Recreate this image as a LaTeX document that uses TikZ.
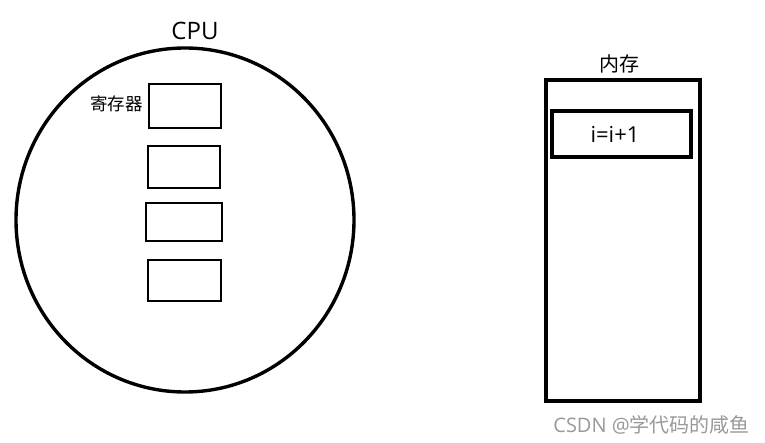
\documentclass[tikz,border=0pt]{standalone}
\usepackage{fontspec}
\setmainfont{Noto Sans CJK SC}
\newfontfamily\latinfont{Open Sans}
\begin{document}
\begin{tikzpicture}[x=1pt,y=-1pt,
  reg/.style={draw=black,line width=2.8pt},
  thick3/.style={draw=black,line width=3.4pt},
  lbl/.style={inner sep=0pt,text=black}]
\useasboundingbox (0,0) rectangle (765,443);
\fill[white] (0,0) rectangle (765,443);
\draw[thick3] (185,220) ellipse [x radius=169, y radius=172];
\node[lbl,font=\latinfont\fontsize{24}{26}\selectfont] (cpu) at (195,31) {CPU};
\draw[reg] (149,84) rectangle (221,128) coordinate (r1);
\draw[reg] (148,146) rectangle (220,188) coordinate (r2);
\draw[reg] (146,203) rectangle (222,241) coordinate (r3);
\draw[reg] (148,260) rectangle (221,301) coordinate (r4);
\node[lbl,font=\fontsize{17.5}{19}\selectfont,anchor=east] (reglbl) at (143,104) {寄存器};
\draw[thick3] (546,80) rectangle (700,401);
\draw[thick3] (552,111) rectangle (691,157);
\node[lbl,font=\latinfont\fontsize{22}{24}\selectfont] (expr) at (615,134) {i=i+1};
\node[lbl,font=\fontsize{20}{22}\selectfont] (mem) at (619,64) {内存};
\node[lbl,text=black!40,font=\fontsize{20}{22}\selectfont,anchor=east] (wm) at (750,425) {{\latinfont CSDN @}学代码的咸鱼};
\end{tikzpicture}
\end{document}
